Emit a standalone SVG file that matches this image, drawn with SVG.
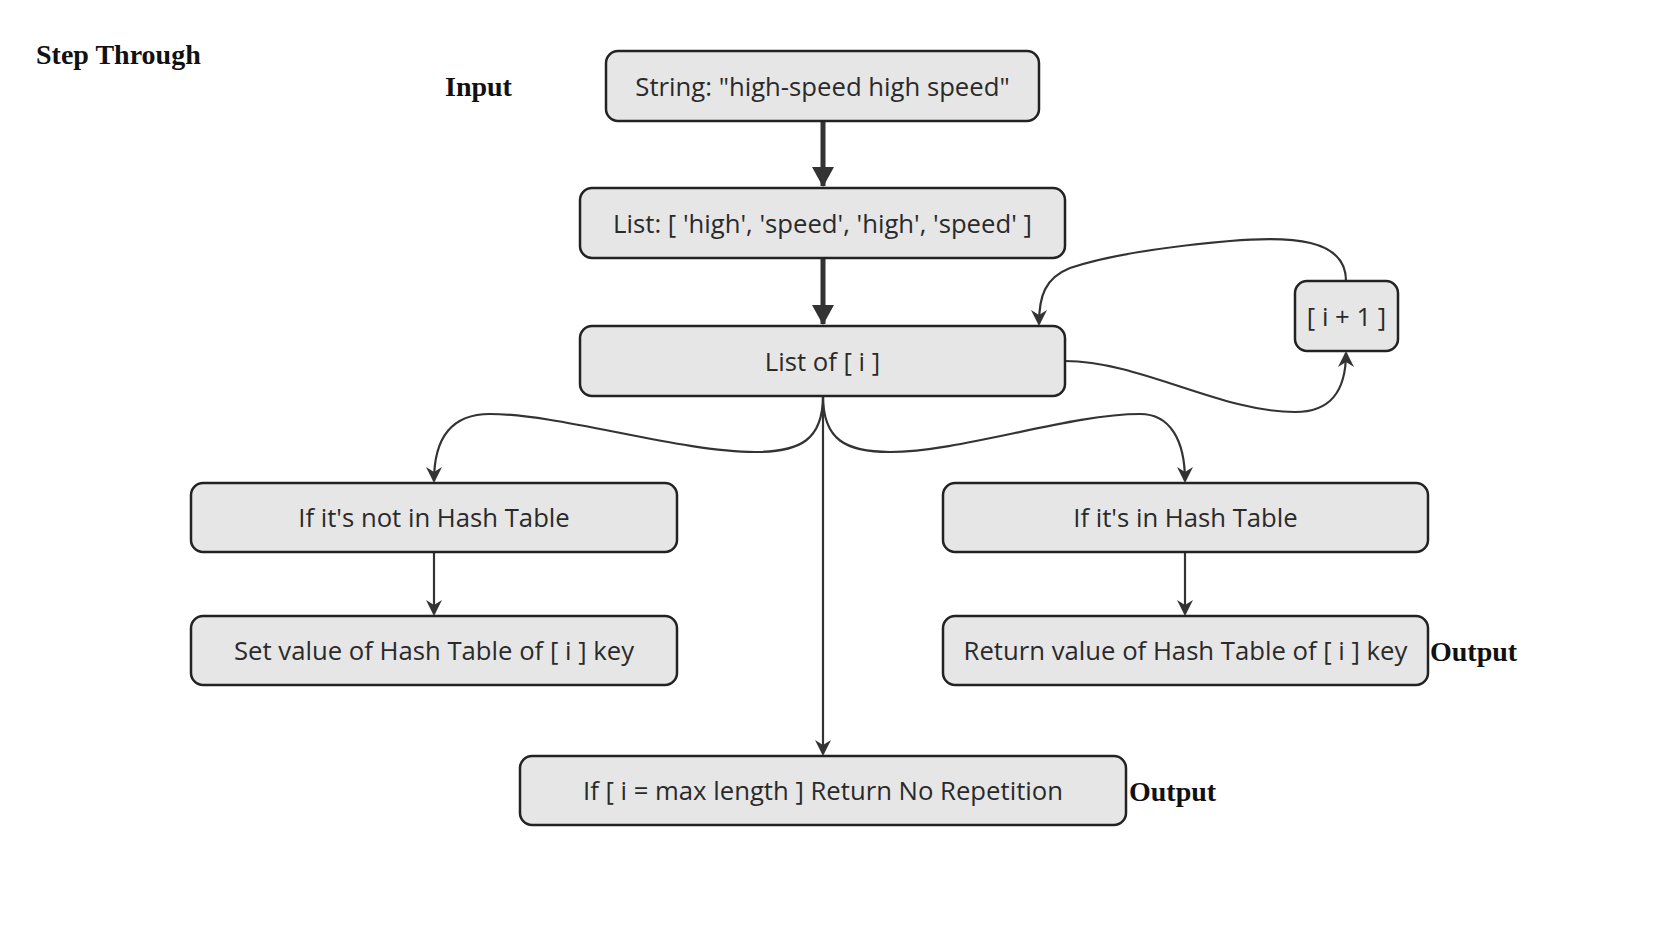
<svg xmlns="http://www.w3.org/2000/svg" width="1668" height="936" viewBox="0 0 1668 936">
<style>
.box{fill:#e6e6e6;stroke:#222;stroke-width:2.5}
.t{font-family:"Open Sans","Noto Sans",sans-serif;font-size:25.7px;fill:#2a2a2a;text-anchor:middle;dominant-baseline:central}
.lbl{font-family:"Liberation Serif",serif;font-weight:bold;font-size:28px;fill:#111}
.c{fill:none;stroke:#333;stroke-width:2.2}
.ck{fill:none;stroke:#333;stroke-width:5}
</style>
<defs>
<marker id="a" viewBox="0 0 16 16" refX="14" refY="8" markerWidth="16" markerHeight="16" markerUnits="userSpaceOnUse" orient="auto">
<path d="M0,0 L16,8 L0,16 L5,8 Z" fill="#333"/>
</marker>
<marker id="ab" viewBox="0 0 20 22" refX="19" refY="11" markerWidth="20" markerHeight="22" markerUnits="userSpaceOnUse" orient="auto">
<path d="M0,0 L20,11 L0,22 Z" fill="#333"/>
</marker>
</defs>
<rect width="1668" height="936" fill="#fff"/>
<text class="lbl" x="36" y="64">Step Through</text>
<text class="lbl" x="445" y="96">Input</text>
<text class="lbl" x="1430" y="661">Output</text>
<text class="lbl" x="1129" y="801">Output</text>
<g id="connectors">
<path class="ck" d="M823,121 L823,186" marker-end="url(#ab)"/>
<path class="ck" d="M823,258 L823,324" marker-end="url(#ab)"/>
<path class="c" d="M1346,281 C1346,238 1290,236 1230,241 C1150,248 1100,258 1070,268 C1045,278 1039,296 1039,324" marker-end="url(#a)"/>
<path class="c" d="M1065,361 C1140,361 1220,412 1295,412 C1330,412 1346,392 1346,353" marker-end="url(#a)"/>
<path class="c" d="M823,396 C823,440 800,452 755,452 C680,452 560,414 490,414 C450,414 434,440 434,481" marker-end="url(#a)"/>
<path class="c" d="M823,396 C823,440 846,452 890,452 C960,452 1070,414 1140,414 C1170,414 1185,440 1185,481" marker-end="url(#a)"/>
<path class="c" d="M823,396 L823,754" marker-end="url(#a)"/>
<path class="c" d="M434,552 L434,614" marker-end="url(#a)"/>
<path class="c" d="M1185,552 L1185,614" marker-end="url(#a)"/>
</g>
<g id="n-string"><rect class="box" x="606" y="51" width="433" height="70" rx="12"/><text class="t" x="822.5" y="86">String: "high-speed high speed"</text></g>
<g id="n-list"><rect class="box" x="580" y="188" width="485" height="70" rx="12"/><text class="t" x="822.5" y="223">List: [ 'high', 'speed', 'high', 'speed' ]</text></g>
<g id="n-listi"><rect class="box" x="580" y="326" width="485" height="70" rx="12"/><text class="t" x="822.5" y="361">List of [ i ]</text></g>
<g id="n-inc"><rect class="box" x="1295" y="281" width="103" height="70" rx="12"/><text class="t" x="1346.5" y="316">[ i + 1 ]</text></g>
<g id="n-notin"><rect class="box" x="191" y="483" width="486" height="69" rx="12"/><text class="t" x="434" y="517.5">If it's not in Hash Table</text></g>
<g id="n-set"><rect class="box" x="191" y="616" width="486" height="69" rx="12"/><text class="t" x="434" y="650.5">Set value of Hash Table of [ i ] key</text></g>
<g id="n-in"><rect class="box" x="943" y="483" width="485" height="69" rx="12"/><text class="t" x="1185.5" y="517.5">If it's in Hash Table</text></g>
<g id="n-ret"><rect class="box" x="943" y="616" width="485" height="69" rx="12"/><text class="t" x="1185.5" y="650.5">Return value of Hash Table of [ i ] key</text></g>
<g id="n-max"><rect class="box" x="520" y="756" width="606" height="69" rx="12"/><text class="t" x="823" y="790.5">If [ i = max length ] Return No Repetition</text></g>
</svg>
